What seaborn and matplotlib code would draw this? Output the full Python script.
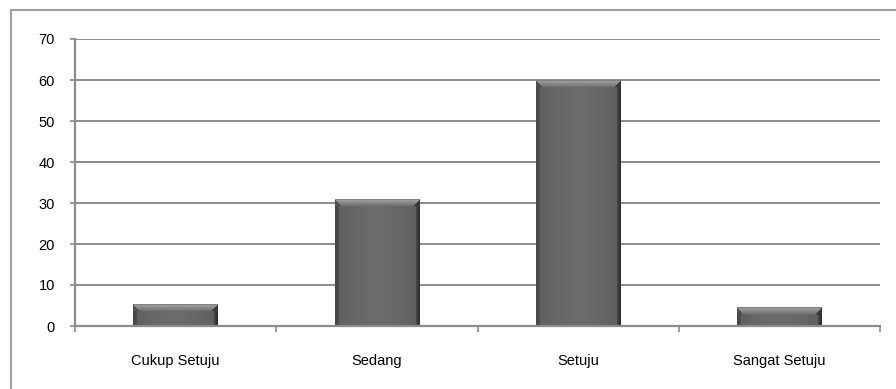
import numpy as np
import pandas as pd
import matplotlib
matplotlib.use("Agg")
import matplotlib.pyplot as plt
from matplotlib.patches import Rectangle
import seaborn as sns

# Survey responses per answer category
categories = ["Cukup Setuju", "Sedang", "Setuju", "Sangat Setuju"]
values = [5.3, 30.9, 60.0, 4.4]
y_ticks = [0, 10, 20, 30, 40, 50, 60, 70]

df = pd.DataFrame({"kategori": categories, "nilai": values})

sns.set_style("white")
plt.rcParams["font.family"] = ["Liberation Sans", "DejaVu Sans"]

W, H = 896, 389
fig = plt.figure(figsize=(W / 100, H / 100), dpi=100)
ax = fig.add_axes([75 / W, (H - 326) / H, (880 - 75) / W, (326 - 39) / H])

grid_col = "#8c8c8c"
sns.barplot(data=df, x="kategori", y="nilai", order=categories, color="#5e5e5e",
            width=0.42, saturation=1, edgecolor="none", ax=ax, zorder=3)

ax.set_ylim(0, 70)
ax.set_xlim(-0.5, len(categories) - 0.5)
ax.set_yticks(y_ticks)
ax.set_yticklabels([str(v) for v in y_ticks])
ax.yaxis.grid(True, color=grid_col, linewidth=1.4, zorder=0)
ax.set_axisbelow(True)

# category boundaries as tick marks, labels centred between them
ax.set_xticks(np.arange(-0.5, len(categories), 1.0))
ax.set_xticklabels([])
ax.set_xticks(np.arange(len(categories)), minor=True)
ax.set_xticklabels(categories, minor=True)
ax.tick_params(axis="x", which="major", direction="out", length=4, width=1.2,
               color=grid_col, bottom=True)
ax.tick_params(axis="x", which="minor", length=0, pad=20, labelsize=10.5,
               labelcolor="#000000")
ax.tick_params(axis="y", direction="out", length=3.5, width=1.2, color=grid_col,
               left=True, pad=11, labelsize=10.5, labelcolor="#000000")
ax.set_xlabel("")
ax.set_ylabel("")

for side in ("top", "right"):
    ax.spines[side].set_visible(False)
for side in ("left", "bottom"):
    ax.spines[side].set_color(grid_col)
    ax.spines[side].set_linewidth(1.6)
    ax.spines[side].set_zorder(4)


def bevel_image(pw, ph):
    """Grey shading of a bevelled bar, pw x ph pixels."""
    pw, ph = max(pw, 2), max(ph, 2)
    xs = np.arange(pw) / max(pw - 1, 1)
    col = 0.37 + 0.05 * np.sin(np.pi * xs)
    img = np.tile(col, (ph, 1))
    # darker side strips
    side = min(4, pw // 6)
    for i in range(side):
        img[:, i] = 0.31 - 0.01 * (side - i)
        img[:, pw - 1 - i] = 0.18 + 0.03 * i
    # lighter top bevel (trapezoid)
    depth = min(7, ph)
    shades = np.linspace(0.64, 0.45, depth)
    for r in range(depth):
        lo, hi = r, pw - r
        if lo < hi:
            img[r, lo:hi] = shades[r]
        img[r, :lo] = 0.31
        img[r, hi:] = 0.22
    img[0, :] = 0.50
    return img


fig.canvas.draw()
for patch in list(ax.patches):
    x0, y0 = patch.get_x(), patch.get_y()
    w, h = patch.get_width(), patch.get_height()
    (px0, py0), (px1, py1) = ax.transData.transform([(x0, y0), (x0 + w, y0 + h)])
    img = bevel_image(int(round(px1 - px0)), int(round(py1 - py0)))
    ax.imshow(img, cmap="gray", vmin=0, vmax=1, extent=(x0, x0 + w, y0, y0 + h),
              aspect="auto", interpolation="bilinear", zorder=3.5)

ax.set_xlim(-0.5, len(categories) - 0.5)
ax.set_ylim(0, 70)

# chart area frame
frame = Rectangle((10.5 / W, -0.1), 1.2, (H - 10.5) / H + 0.1, transform=fig.transFigure,
                  fill=False, edgecolor="#a0a0a0", linewidth=1.5, clip_on=False)
fig.patches.append(frame)

fig.savefig("out.png", dpi=100)
